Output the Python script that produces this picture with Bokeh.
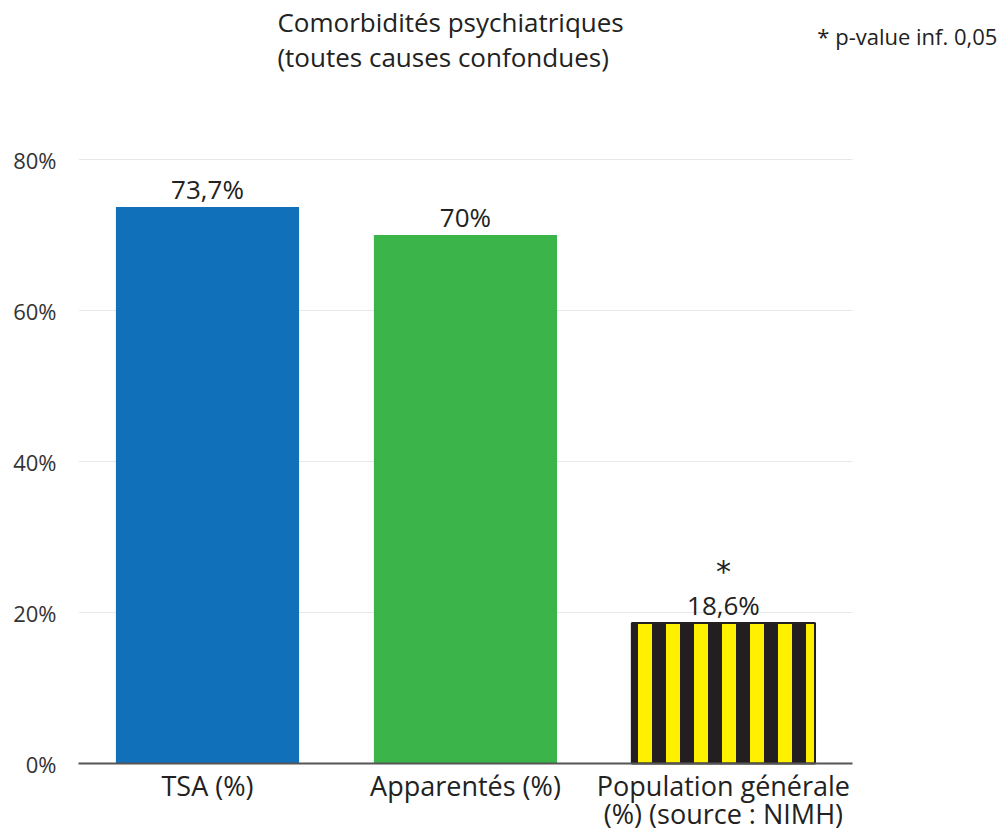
from bokeh.plotting import figure
from bokeh.models import (ColumnDataSource, Range1d, FixedTicker, Grid,
                          PrintfTickFormatter, LabelSet, Label)
from bokeh.core.properties import value
from bokeh.embed import file_html
from bokeh.resources import INLINE

categories = ["TSA (%)", "Apparentés (%)", "Population générale\n(%) (source : NIMH)"]
values = [73.7, 70.0, 18.6]
value_labels = ["73,7%", "70%", "18,6%"]
bar_colors = ["#1071BA", "#3BB54A", "#FFF000"]
y_ticks = [0, 20, 40, 60, 80]

title_text = "Comorbidités psychiatriques\n(toutes causes confondues)"
note_text = "* p-value inf. 0,05"

FONT = "Open Sans"
n = len(categories)
xs = [i + 0.5 for i in range(n)]

W, H = 1000, 835
p = figure(width=W, height=H, output_backend="svg", toolbar_location=None,
           x_range=Range1d(0, 3.574), y_range=Range1d(-9.536, 101.06),
           min_border_left=78, min_border_right=0, min_border_top=0, min_border_bottom=0)
p.outline_line_color = None
p.background_fill_color = "white"
p.xaxis.visible = False

src = ColumnDataSource(dict(x=xs[:2], v=values[:2], c=bar_colors[:2]))
p.vbar(x="x", top="v", width=0.71, source=src, fill_color="c", line_color=None)

src3 = ColumnDataSource(dict(x=xs[2:], v=values[2:], c=bar_colors[2:]))
p.vbar(x="x", top="v", width=0.71, source=src3, fill_color="c",
       hatch_pattern="vertical_line", hatch_color="#231F20", hatch_weight=14,
       hatch_scale=28, line_color="#231F20", line_width=2)

# value labels above the bars
lsrc = ColumnDataSource(dict(x=xs, v=values, t=value_labels))
p.add_layout(LabelSet(x="x", y="v", text="t", source=lsrc, y_offset=0,
                      text_align="center", text_baseline="bottom",
                      text_font=value(FONT), text_font_size="26px", text_color="#222222"))

p.add_layout(Label(x=xs[2], y=values[2], text="*", y_offset=52, text_align="center",
                   text_baseline="middle", text_font="DejaVu Sans",
                   text_font_size="30px", text_color="#222222"))

# category labels below the baseline
csrc = ColumnDataSource(dict(x=xs, y=[0] * n, t=categories))
p.text(x="x", y="y", text="t", source=csrc, y_offset=3, text_align="center",
       text_baseline="top", text_font=value(FONT), text_font_size="27px",
       text_color="#222222", text_line_height=0.76)

p.add_layout(Label(x=0.771, y=100.6, text=title_text,
                   text_align="left", text_baseline="top", text_font=FONT,
                   text_font_size="26px", text_color="#222222", text_line_height=0.97))
p.add_layout(Label(x=2.864, y=96.3, text=note_text,
                   text_align="left", text_baseline="middle", text_font=FONT,
                   text_font_size="22px", text_color="#222222"))

p.xgrid.grid_line_color = None
p.ygrid.grid_line_color = "#e8e8e8"
p.ygrid.grid_line_width = 1
p.ygrid.cross_bounds = (0, n)

baseline = Grid(dimension=1, ticker=FixedTicker(ticks=[0]), grid_line_color="#555555",
                grid_line_width=2, cross_bounds=(0, n), level="overlay")
p.add_layout(baseline)

p.yaxis.ticker = FixedTicker(ticks=y_ticks)
p.yaxis.formatter = PrintfTickFormatter(format="%d%%")
p.yaxis.axis_line_color = None
p.yaxis.major_tick_line_color = None
p.yaxis.major_tick_out = 0
p.yaxis.major_tick_in = 0
p.yaxis.minor_tick_line_color = None
p.yaxis.major_label_text_font = FONT
p.yaxis.major_label_text_font_size = "22px"
p.yaxis.major_label_text_color = "#333333"
p.yaxis.major_label_standoff = 22

open("out.html", "w").write(file_html(p, INLINE))
